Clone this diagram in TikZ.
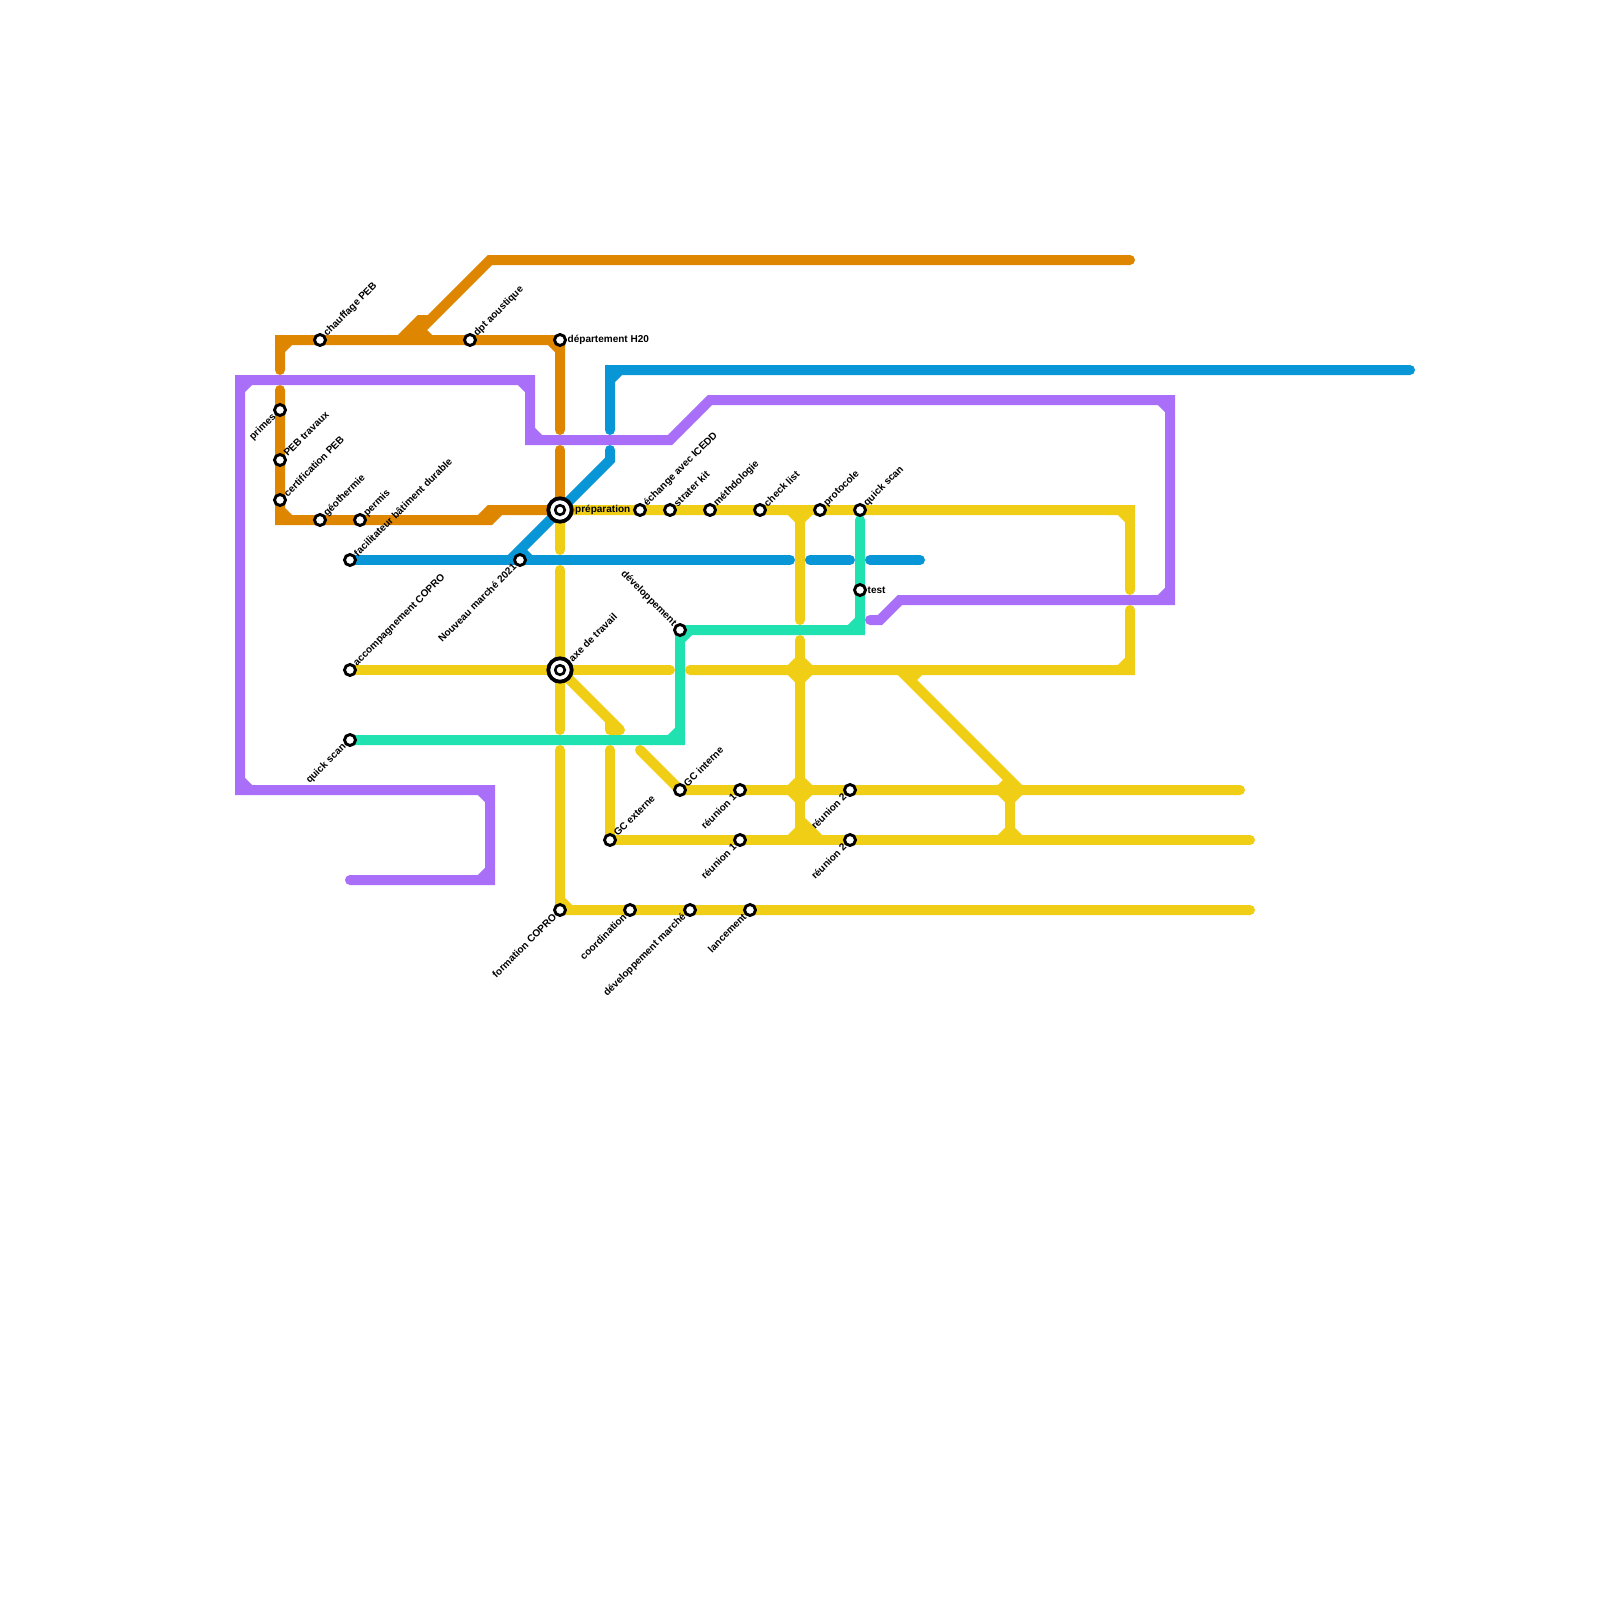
\documentclass[tikz,border=0pt]{standalone}
\usepackage{fontspec}
\setmainfont{Liberation Sans}
\usetikzlibrary{backgrounds}
\definecolor{lineorange}{HTML}{DF8600}
\definecolor{lineblue}{HTML}{0896D7}
\definecolor{linepurple}{HTML}{A96FF9}
\definecolor{lineteal}{HTML}{1FE2B0}
\definecolor{lineyellow}{HTML}{F0CE15}
\tikzset{
  route/.style={line width=1mm,line cap=round,line join=miter},
  orangeroute/.style={route,draw=lineorange},
  blueroute/.style={route,draw=lineblue},
  purpleroute/.style={route,draw=linepurple},
  tealroute/.style={route,draw=lineteal},
  yellowroute/.style={route,draw=lineyellow},
  stop/.style={circle,draw=black,fill=white,line width=.29mm,minimum size=1.1mm,inner sep=0pt},
  hub/.style={circle,draw=black,fill=white,line width=.38mm,minimum size=2.34mm,inner sep=0pt},
  hubcore/.style={stop,line width=.26mm,minimum size=.96mm},
  tag/.style={font=\fontsize{2.85}{3.4}\selectfont\bfseries,inner ysep=0pt,inner xsep=.7mm},
  tagne/.style={tag,rotate=45,anchor=west},
  tagsw/.style={tag,rotate=45,anchor=east},
  tagnw/.style={tag,rotate=-45,anchor=east},
  tage/.style={tag,anchor=west}
}
\begin{document}
\begin{tikzpicture}[x=1mm,y=-1mm]
\useasboundingbox (0,0) rectangle (160,160);

% Stops
\node[stop] (chauffage) at (32,34) {};
\node[stop] (dpt) at (47,34) {};
\node[stop] (departement) at (56,34) {};
\node[stop] (primes) at (28,41) {};
\node[stop] (pebtravaux) at (28,46) {};
\node[stop] (certification) at (28,50) {};
\node[stop] (geothermie) at (32,52) {};
\node[stop] (permis) at (36,52) {};
\node[stop] (facilitateur) at (35,56) {};
\node[stop] (nouveau) at (52,56) {};
\node[stop] (echange) at (64,51) {};
\node[stop] (strater) at (67,51) {};
\node[stop] (methode) at (71,51) {};
\node[stop] (checklist) at (76,51) {};
\node[stop] (protocole) at (82,51) {};
\node[stop] (quickscana) at (86,51) {};
\node[stop] (test) at (86,59) {};
\node[stop] (developpement) at (68,63) {};
\node[stop] (accompagnement) at (35,67) {};
\node[stop] (quickscanb) at (35,74) {};
\node[stop] (gcinterne) at (68,79) {};
\node[stop] (reunionaa) at (74,79) {};
\node[stop] (reunionab) at (85,79) {};
\node[stop] (gcexterne) at (61,84) {};
\node[stop] (reunionba) at (74,84) {};
\node[stop] (reunionbb) at (85,84) {};
\node[stop] (formation) at (56,91) {};
\node[stop] (coordination) at (63,91) {};
\node[stop] (devmarche) at (69,91) {};
\node[stop] (lancement) at (75,91) {};

% Hubs
\node[hub] (preparation) at (56,51) {};
\node[hubcore] (preparationin) at (56,51) {};
\node[hub] (axe) at (56,67) {};
\node[hubcore] (axein) at (56,67) {};

% Labels
\node[tagne] (chauffagetag) at (chauffage) {chauffage PEB};
\node[tagne] (dpttag) at (dpt) {dpt aoustique};
\node[tage] (departementtag) at (departement) {département H20};
\node[tagsw] (primestag) at (primes) {primes};
\node[tagne] (pebtravauxtag) at (pebtravaux) {PEB travaux};
\node[tagne] (certificationtag) at (certification) {certification PEB};
\node[tagne] (geothermietag) at (geothermie) {géothermie};
\node[tagne] (permistag) at (permis) {permis};
\node[tagne] (facilitateurtag) at (facilitateur) {facilitateur bâtiment durable};
\node[tagsw] (nouveautag) at (nouveau) {Nouveau marché 2021};
\node[tage,inner xsep=1.45mm] (preparationtag) at (preparation) {préparation};
\node[tagne] (echangetag) at (echange) {échange avec ICEDD};
\node[tagne] (stratertag) at (strater) {strater kit};
\node[tagne] (methodetag) at (methode) {méthdologie};
\node[tagne] (checklisttag) at (checklist) {check list};
\node[tagne] (protocoletag) at (protocole) {protocole};
\node[tagne] (quickscanatag) at (quickscana) {quick scan};
\node[tage] (testtag) at (test) {test};
\node[tagnw] (developpementtag) at (developpement) {développement};
\node[tagne,inner xsep=1.4mm] (axetag) at (axe) {axe de travail};
\node[tagne] (accompagnementtag) at (accompagnement) {accompagnement COPRO};
\node[tagsw] (quickscanbtag) at (quickscanb) {quick scan};
\node[tagne] (gcinternetag) at (gcinterne) {GC interne};
\node[tagsw] (reunionaatag) at (reunionaa) {réunion 1};
\node[tagsw] (reunionabtag) at (reunionab) {réunion 2};
\node[tagne] (gcexternetag) at (gcexterne) {GC externe};
\node[tagsw] (reunionbatag) at (reunionba) {réunion 1};
\node[tagsw] (reunionbbtag) at (reunionbb) {réunion 2};
\node[tagsw] (formationtag) at (formation) {formation COPRO};
\node[tagsw] (coordinationtag) at (coordination) {coordination};
\node[tagsw] (devmarchetag) at (devmarche) {développement marché};
\node[tagsw] (lancementtag) at (lancement) {lancement};

\begin{scope}[on background layer]
% Yellow routes
\draw[yellowroute] (preparation.center) -- (113,51) -- (113,59) (112,51) -- (113,52);
\draw[yellowroute] (113,61) -- (113,67) -- (69,67) (112,67) -- (113,66);
\draw[yellowroute] (accompagnement.center) -- (67,67);
\draw[yellowroute] (preparation.center) -- (56,55);
\draw[yellowroute] (56,57) -- (56,73);
\draw[yellowroute] (56,75) -- (formation.center) -- (125,91) (56,90) -- (57,91);
\draw[yellowroute] (axe.center) -- (62,73) (61,73) -- (62,73) (61,72) -- (61,73) (56,68) -- (57,67);
\draw[yellowroute] (61,75) -- (gcexterne.center) -- (125,84);
\draw[yellowroute] (64,75) -- (gcinterne.center) -- (124,79);
\draw[yellowroute] (80,51) -- (80,62) (79,51) -- (80,52) -- (81,51);
\draw[yellowroute] (80,64) -- (80,84);
\draw[yellowroute] (79,67) -- (80,66) -- (81,67) -- (80,68) -- cycle;
\draw[yellowroute] (79,79) -- (80,78) -- (81,79) -- (80,80) -- cycle;
\draw[yellowroute] (79,84) -- (80,83) -- (81,84) (80,82) -- (82,84);
\draw[yellowroute] (90,67) -- (102,79) (91,68) -- (92,67);
\draw[yellowroute] (101,79) -- (101,84) (100,79) -- (101,78) (100,79) -- (101,80) -- (102,79);
\draw[yellowroute] (100,84) -- (101,83) -- (102,84);
% Orange routes
\draw[orangeroute] (28,37) -- (28,34) -- (departement.center) -- (56,43) (28,35) -- (29,34) (55,34) -- (56,35);
\draw[orangeroute] (113,26) -- (49,26) -- (41,34) (42,33) -- (43,34) (40,34) -- (42,32) -- (43,32);
\draw[orangeroute] (28,39) -- (28,52) -- (49,52) -- (50,51) -- (57,51) (28,51) -- (29,52) (48,52) -- (49,51) -- (50,51);
\draw[orangeroute] (56,45) -- (preparation.center);
% Blue routes
\draw[blueroute] (61,43) -- (61,37) -- (141,37) (61,38) -- (62,37);
\draw[blueroute] (61,45) -- (61,46) -- (51,56) (52,55) -- (53,56);
\draw[blueroute] (facilitateur.center) -- (79,56);
\draw[blueroute] (81,56) -- (85,56);
\draw[blueroute] (87,56) -- (92,56);
% Teal route
\draw[tealroute] (quickscanb.center) -- (68,74) -- (developpement.center) -- (86,63) -- (86,52) (67,74) -- (68,73) (68,64) -- (69,63) (85,63) -- (86,62);
% Purple route
\draw[purpleroute] (35,88) -- (49,88) -- (49,79) -- (24,79) -- (24,38) -- (53,38) -- (53,44) -- (67,44) -- (71,40) -- (117,40) -- (117,60) -- (90,60) -- (88,62) -- (87,62);
\draw[purpleroute] (48,88) -- (49,87) (48,79) -- (49,80) (24,78) -- (25,79) (24,39) -- (25,38) (52,38) -- (53,39) (53,43) -- (54,44) (116,40) -- (117,41) (116,60) -- (117,59);
\end{scope}
\end{tikzpicture}
\end{document}
